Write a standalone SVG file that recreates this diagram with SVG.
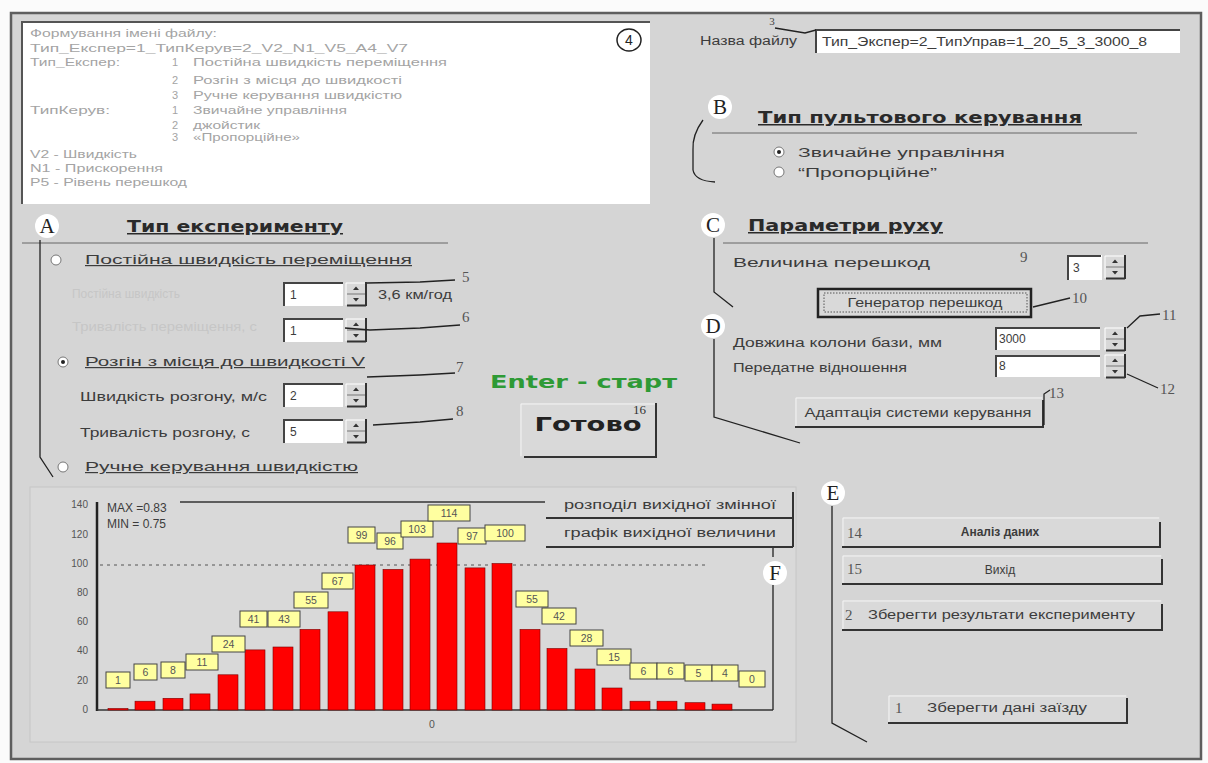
<svg xmlns="http://www.w3.org/2000/svg" width="1208" height="763" viewBox="0 0 1208 763">
<defs>
<style>
.ui{font-family:"Liberation Sans",Arial,sans-serif;font-size:12px;fill:#3c3c3c}
.info{font-family:"Liberation Sans",Arial,sans-serif;font-size:11px;fill:#a4a4a4}
.dis{font-family:"Liberation Sans",Arial,sans-serif;font-size:12px;fill:#c6c6c6}
.head{font-family:"DejaVu Sans",sans-serif;font-size:15px;font-weight:bold;fill:#2a2a2a;text-decoration:underline}
.ltr{font-family:"Liberation Serif",serif;font-size:21px;fill:#222;text-anchor:middle}
.num{font-family:"Liberation Serif",serif;font-size:15px;fill:#555}
.ax{font-family:"Liberation Sans",Arial,sans-serif;font-size:10px;fill:#555;text-anchor:end}
.bl{font-family:"Liberation Sans",Arial,sans-serif;font-size:10.5px;fill:#555;text-anchor:middle}
.lbox{fill:#ffffa0;stroke:#444;stroke-width:1}
.bar{fill:#ff0000;stroke:#7a0000;stroke-width:0.6}
.lead{fill:none;stroke:#222;stroke-width:1.3}
.face{fill:#d9d9d9}
.dark{stroke:#333;stroke-width:2;fill:none}
.hi{stroke:#f4f4f4;stroke-width:1;fill:none}
.sunk{stroke:#444;stroke-width:2;fill:none}
.rad{fill:#fff;stroke:#777;stroke-width:1}
</style>
<g id="spin">
<rect width="22" height="24" fill="#d8d8d8"/>
<path d="M1,1 H21 M1,1 V23" stroke="#fff" stroke-width="1"/>
<path d="M2,12 H21" stroke="#777" stroke-width="1"/>
<path d="M8,8 L11,4.5 L14,8Z" fill="#333"/>
<path d="M8,16 L11,19.5 L14,16Z" fill="#333"/>
<path d="M21,0 V24 M2,23.5 H21" stroke="#333" stroke-width="2"/>
</g>
</defs>

<rect x="0" y="0" width="1208" height="763" fill="#fbfbfb"/>
<rect id="frame" x="11" y="13" width="1190" height="746" fill="#d5d5d5" stroke="#5e5e5e" stroke-width="2.5"/>

<!-- info text box -->
<g id="info-box">
<rect x="22" y="22" width="628" height="182" fill="#ffffff"/>
<path d="M22,204 V22 H650" stroke="#555" stroke-width="2" fill="none"/>
<text class="info" x="30" y="37" textLength="187" lengthAdjust="spacingAndGlyphs">Формування імені файлу:</text>
<text class="info" x="30" y="52" textLength="378" lengthAdjust="spacingAndGlyphs">Тип_Експер=1_ТипКерув=2_V2_N1_V5_A4_V7</text>
<text class="info" x="30" y="66" textLength="90" lengthAdjust="spacingAndGlyphs">Тип_Експер:</text>
<text class="info" x="172" y="66">1</text><text class="info" x="193" y="66" textLength="254" lengthAdjust="spacingAndGlyphs">Постійна швидкість переміщення</text>
<text class="info" x="172" y="84">2</text><text class="info" x="193" y="84" textLength="209" lengthAdjust="spacingAndGlyphs">Розгін з місця до швидкості</text>
<text class="info" x="172" y="99">3</text><text class="info" x="193" y="99" textLength="209" lengthAdjust="spacingAndGlyphs">Ручне керування швидкістю</text>
<text class="info" x="30" y="114" textLength="80" lengthAdjust="spacingAndGlyphs">ТипКерув:</text>
<text class="info" x="172" y="114">1</text><text class="info" x="193" y="114" textLength="154" lengthAdjust="spacingAndGlyphs">Звичайне управління</text>
<text class="info" x="172" y="129">2</text><text class="info" x="193" y="129" textLength="67" lengthAdjust="spacingAndGlyphs">джойстик</text>
<text class="info" x="172" y="141">3</text><text class="info" x="193" y="141" textLength="107" lengthAdjust="spacingAndGlyphs">«Пропорційне»</text>
<text class="info" x="30" y="158" textLength="107" lengthAdjust="spacingAndGlyphs">V2 - Швидкість</text>
<text class="info" x="30" y="172" textLength="133" lengthAdjust="spacingAndGlyphs">N1 - Прискорення</text>
<text class="info" x="30" y="186" textLength="157" lengthAdjust="spacingAndGlyphs">P5 - Рівень перешкод</text>
<ellipse cx="629" cy="40" rx="12" ry="11" fill="#fff" stroke="#222" stroke-width="1.5"/>
<text x="629" y="45" font-family="Liberation Sans, Arial, sans-serif" font-size="14" fill="#222" text-anchor="middle">4</text>
</g>

<!-- filename -->
<g id="filename">
<text class="ui" x="700" y="45" font-size="11" textLength="97" lengthAdjust="spacingAndGlyphs">Назва файлу</text>
<rect x="816" y="30" width="364" height="23" fill="#fff"/>
<path d="M816,53 V30 H1180" stroke="#444" stroke-width="2" fill="none"/>
<text class="ui" x="822" y="46" font-size="11" textLength="325" lengthAdjust="spacingAndGlyphs">Тип_Экспер=2_ТипУправ=1_20_5_3_3000_8</text>
<text x="772" y="25" font-family="Liberation Serif, serif" font-size="11" fill="#444" text-anchor="middle">3</text>
</g>

<!-- B section -->
<g id="section-B">
<circle cx="720" cy="107" r="12" fill="#fff"/>
<text class="ltr" x="720" y="114">B</text>
<text class="head" x="758" y="123" textLength="324" lengthAdjust="spacingAndGlyphs">Тип пультового керування</text>
<line x1="712" y1="133" x2="1137" y2="133" stroke="#666" stroke-width="1"/>
<circle class="rad" cx="779" cy="152" r="5"/><circle cx="779" cy="152" r="2" fill="#222"/>
<text class="ui" x="798" y="157" textLength="207" lengthAdjust="spacingAndGlyphs">Звичайне управління</text>
<circle class="rad" cx="779" cy="172" r="5"/>
<text class="ui" x="798" y="177" textLength="139" lengthAdjust="spacingAndGlyphs">“Пропорційне”</text>
</g>

<!-- A section -->
<g id="section-A">
<circle cx="47" cy="226" r="12" fill="#fff"/>
<text class="ltr" x="47" y="233">A</text>
<text class="head" x="127" y="232" textLength="216" lengthAdjust="spacingAndGlyphs">Тип експерименту</text>
<line x1="22" y1="243" x2="448" y2="243" stroke="#666" stroke-width="1"/>
<circle class="rad" cx="56" cy="260" r="5"/>
<text class="ui" x="85" y="264" text-decoration="underline" textLength="327" lengthAdjust="spacingAndGlyphs">Постійна швидкість переміщення</text>
<text class="dis" x="72" y="298" textLength="108" lengthAdjust="spacingAndGlyphs">Постійна швидкість</text>
<rect x="283" y="282" width="60" height="24" fill="#fff"/><path class="sunk" d="M284,306 V283 H343"/>
<text class="ui" x="290" y="299" fill="#aaa">1</text>
<use href="#spin" x="345" y="282"/>
<text class="ui" x="378" y="299" font-size="11" textLength="74" lengthAdjust="spacingAndGlyphs">3,6 км/год</text>
<text class="dis" x="72" y="331" textLength="185" lengthAdjust="spacingAndGlyphs">Тривалість переміщення, с</text>
<rect x="283" y="318" width="60" height="24" fill="#fff"/><path class="sunk" d="M284,342 V319 H343"/>
<text class="ui" x="290" y="335" fill="#aaa">1</text>
<use href="#spin" x="345" y="318"/>
<circle class="rad" cx="63" cy="362" r="5"/><circle cx="63" cy="362" r="2" fill="#222"/>
<text class="ui" x="85" y="366" text-decoration="underline" textLength="280" lengthAdjust="spacingAndGlyphs">Розгін з місця до швидкості V</text>
<text class="ui" x="80" y="401" textLength="187" lengthAdjust="spacingAndGlyphs">Швидкість розгону, м/с</text>
<rect x="283" y="383" width="60" height="24" fill="#fff"/><path class="sunk" d="M284,407 V384 H343"/>
<text class="ui" x="290" y="400" fill="#aaa">2</text>
<use href="#spin" x="345" y="383"/>
<text class="ui" x="80" y="437" textLength="170" lengthAdjust="spacingAndGlyphs">Тривалість розгону, с</text>
<rect x="283" y="419" width="60" height="24" fill="#fff"/><path class="sunk" d="M284,443 V420 H343"/>
<text class="ui" x="290" y="436" fill="#aaa">5</text>
<use href="#spin" x="345" y="419"/>
<circle class="rad" cx="63" cy="467" r="5"/>
<text class="ui" x="85" y="471" text-decoration="underline" textLength="273" lengthAdjust="spacingAndGlyphs">Ручне керування швидкістю</text>
<text class="num" x="462" y="282">5</text>
<text class="num" x="462" y="322">6</text>
<text class="num" x="456" y="372">7</text>
<text class="num" x="456" y="416">8</text>
</g>

<!-- start -->
<g id="start">
<text x="490" y="388" font-family="DejaVu Sans, sans-serif" font-size="17" font-weight="bold" fill="#2e9a35" textLength="187" lengthAdjust="spacingAndGlyphs">Enter - старт</text>
<rect x="520" y="403" width="137" height="54" class="face"/>
<path class="hi" d="M521,456 V404 H656"/>
<path class="dark" d="M524,457 H656 V403"/>
<text x="588" y="431" font-family="DejaVu Sans, sans-serif" font-size="19" font-weight="bold" fill="#222" text-anchor="middle" textLength="107" lengthAdjust="spacingAndGlyphs">Готово</text>
<text x="633" y="414" font-family="Liberation Serif, serif" font-size="13" fill="#333">16</text>
</g>

<!-- C section -->
<g id="section-C">
<circle cx="713" cy="225" r="12" fill="#fff"/>
<text class="ltr" x="713" y="232">C</text>
<text class="head" x="748" y="231" textLength="195" lengthAdjust="spacingAndGlyphs">Параметри руху</text>
<line x1="723" y1="243" x2="1148" y2="243" stroke="#666" stroke-width="1"/>
<text class="ui" x="733" y="267" textLength="197" lengthAdjust="spacingAndGlyphs">Величина перешкод</text>
<text class="num" x="1020" y="262" font-size="13">9</text>
<rect x="1067" y="255" width="35" height="25" fill="#fff"/><path class="sunk" d="M1068,280 V256 H1101"/>
<text class="ui" x="1073" y="272">3</text>
<use href="#spin" x="1104" y="255"/>
<rect x="817" y="288" width="215" height="30" class="face"/>
<rect x="818" y="289" width="213" height="28" fill="none" stroke="#222" stroke-width="2.5"/>
<rect x="824" y="293" width="203" height="19" fill="none" stroke="#555" stroke-width="1" stroke-dasharray="1.5,1.5"/>
<text class="ui" x="925" y="307" font-size="11" text-anchor="middle" textLength="155" lengthAdjust="spacingAndGlyphs">Генератор перешкод</text>
<text class="num" x="1072" y="303">10</text>
</g>

<!-- D section -->
<g id="section-D">
<circle cx="713" cy="326" r="12" fill="#fff"/>
<text class="ltr" x="713" y="333">D</text>
<text class="ui" x="733" y="347" font-size="11" textLength="209" lengthAdjust="spacingAndGlyphs">Довжина колони бази, мм</text>
<rect x="995" y="327" width="105" height="23" fill="#fff"/><path class="sunk" d="M996,350 V328 H1100"/>
<text class="ui" x="999" y="343" font-size="11">3000</text>
<use href="#spin" x="1104" y="327"/>
<text class="ui" x="733" y="372" font-size="11" textLength="174" lengthAdjust="spacingAndGlyphs">Передатне відношення</text>
<rect x="995" y="355" width="105" height="22" fill="#fff"/><path class="sunk" d="M996,377 V356 H1100"/>
<text class="ui" x="999" y="370" font-size="11">8</text>
<use href="#spin" x="1104" y="354"/>
<rect x="795" y="397" width="248" height="31" class="face"/>
<path class="hi" d="M796,427 V398 H1042"/>
<path class="dark" d="M795,427 H1043 V400"/>
<text class="ui" x="918" y="417" font-size="11" text-anchor="middle" textLength="227" lengthAdjust="spacingAndGlyphs">Адаптація системи керування</text>
<text class="num" x="1162" y="320">11</text>
<text class="num" x="1160" y="394">12</text>
<text class="num" x="1049" y="398">13</text>
</g>

<!-- chart -->
<g id="chart">
<rect x="30" y="487" width="766" height="255" fill="#d9d9d9" stroke="#c6c6c6" stroke-width="1"/>
<line x1="180" y1="502" x2="545" y2="502" stroke="#333" stroke-width="1.5"/>
<line x1="97" y1="502" x2="97" y2="711" stroke="#222" stroke-width="2.5"/>
<line x1="97" y1="710" x2="773" y2="710" stroke="#333" stroke-width="1.5"/>
<line x1="100" y1="565" x2="707" y2="565" stroke="#555" stroke-width="1" stroke-dasharray="3,4"/>
<text class="ax" x="88" y="508">140</text>
<text class="ax" x="88" y="538">120</text>
<text class="ax" x="88" y="567">100</text>
<text class="ax" x="88" y="596">80</text>
<text class="ax" x="88" y="625">60</text>
<text class="ax" x="88" y="654">40</text>
<text class="ax" x="88" y="684">20</text>
<text class="ax" x="88" y="713">0</text>
<text class="ui" x="107" y="512" font-size="10.5">MAX =0.83</text>
<text class="ui" x="107" y="528" font-size="10.5">MIN = 0.75</text>
<text class="bl" x="432" y="728">0</text>
<rect class="bar" x="108" y="708.5" width="20" height="1.5"/>
<rect class="bar" x="135" y="701.2" width="20" height="8.8"/>
<rect class="bar" x="163" y="698.3" width="20" height="11.7"/>
<rect class="bar" x="190" y="693.9" width="20" height="16.1"/>
<rect class="bar" x="218" y="674.8" width="20" height="35.2"/>
<rect class="bar" x="245" y="649.9" width="20" height="60.1"/>
<rect class="bar" x="273" y="647" width="20" height="63"/>
<rect class="bar" x="300" y="629.4" width="20" height="80.6"/>
<rect class="bar" x="328" y="611.8" width="20" height="98.2"/>
<rect class="bar" x="355" y="565" width="20" height="145"/>
<rect class="bar" x="383" y="569.4" width="20" height="140.6"/>
<rect class="bar" x="410" y="559.1" width="20" height="150.9"/>
<rect class="bar" x="437" y="543" width="20" height="167"/>
<rect class="bar" x="465" y="567.9" width="20" height="142.1"/>
<rect class="bar" x="492" y="563.5" width="20" height="146.5"/>
<rect class="bar" x="520" y="629.4" width="20" height="80.6"/>
<rect class="bar" x="547" y="648.5" width="20" height="61.5"/>
<rect class="bar" x="575" y="669" width="20" height="41"/>
<rect class="bar" x="602" y="688" width="20" height="22"/>
<rect class="bar" x="630" y="701.2" width="20" height="8.8"/>
<rect class="bar" x="657" y="701.2" width="20" height="8.8"/>
<rect class="bar" x="685" y="702.7" width="20" height="7.3"/>
<rect class="bar" x="712" y="704.1" width="20" height="5.9"/>
<g>
<rect class="lbox" x="106" y="672" width="24" height="16"/><text class="bl" x="118" y="684">1</text>
<rect class="lbox" x="134" y="664" width="23" height="16"/><text class="bl" x="145.5" y="676">6</text>
<rect class="lbox" x="161" y="662" width="24" height="16"/><text class="bl" x="173" y="674">8</text>
<rect class="lbox" x="186" y="654" width="32" height="16"/><text class="bl" x="202" y="666">11</text>
<rect class="lbox" x="212" y="636" width="33" height="16"/><text class="bl" x="228.5" y="648">24</text>
<rect class="lbox" x="240" y="611" width="27" height="16"/><text class="bl" x="253.5" y="623">41</text>
<rect class="lbox" x="268" y="611" width="32" height="16"/><text class="bl" x="284" y="623">43</text>
<rect class="lbox" x="294" y="592" width="34" height="16"/><text class="bl" x="311" y="604">55</text>
<rect class="lbox" x="322" y="573" width="31" height="16"/><text class="bl" x="337.5" y="585">67</text>
<rect class="lbox" x="348" y="527" width="27" height="16"/><text class="bl" x="361.5" y="539">99</text>
<rect class="lbox" x="377" y="533" width="26" height="16"/><text class="bl" x="390" y="545">96</text>
<rect class="lbox" x="401" y="521" width="32" height="16"/><text class="bl" x="417" y="533">103</text>
<rect class="lbox" x="428" y="505" width="42" height="16"/><text class="bl" x="449" y="517">114</text>
<rect class="lbox" x="458" y="528" width="28" height="16"/><text class="bl" x="472" y="540">97</text>
<rect class="lbox" x="485" y="525" width="40" height="16"/><text class="bl" x="505" y="537">100</text>
<rect class="lbox" x="516" y="591" width="32" height="16"/><text class="bl" x="532" y="603">55</text>
<rect class="lbox" x="542" y="608" width="34" height="16"/><text class="bl" x="559" y="620">42</text>
<rect class="lbox" x="570" y="630" width="33" height="16"/><text class="bl" x="586.5" y="642">28</text>
<rect class="lbox" x="597" y="649" width="34" height="16"/><text class="bl" x="614" y="661">15</text>
<rect class="lbox" x="630" y="663" width="27" height="16"/><text class="bl" x="643.5" y="675">6</text>
<rect class="lbox" x="657" y="663" width="27" height="16"/><text class="bl" x="670.5" y="675">6</text>
<rect class="lbox" x="685" y="665" width="27" height="16"/><text class="bl" x="698.5" y="677">5</text>
<rect class="lbox" x="712" y="665" width="26" height="16"/><text class="bl" x="725" y="677">4</text>
<rect class="lbox" x="739" y="671" width="26" height="16"/><text class="bl" x="752" y="683">0</text>
</g>
</g>

<g id="legend-buttons">
<rect x="546" y="492" width="247" height="55" class="face"/>
<path class="dark" d="M546,518 H793 M546,547 H793 M793,492 V547" stroke-width="1.5"/>
<text class="ui" x="670" y="509" font-size="10.5" text-anchor="middle" textLength="212" lengthAdjust="spacingAndGlyphs">розподіл вихідної змінної</text>
<text class="ui" x="670" y="537" font-size="10.5" text-anchor="middle" textLength="212" lengthAdjust="spacingAndGlyphs">графік вихідної величини</text>
</g>

<g id="section-F">
<circle cx="775" cy="573" r="12" fill="#fff"/>
<text class="ltr" x="775" y="580">F</text>
</g>

<!-- E section -->
<g id="section-E">
<circle cx="833" cy="493" r="12" fill="#fff"/>
<text class="ltr" x="833" y="500">E</text>
<g id="btn14">
<rect x="842" y="517" width="318" height="30" class="face"/>
<path class="hi" d="M843,546 V518 H1159"/>
<path class="dark" d="M842,547 H1160 V522"/>
<text class="num" x="847" y="538" font-size="14">14</text>
<text class="ui" x="1000" y="536" font-size="11" font-weight="bold" text-anchor="middle">Аналіз даних</text>
</g>
<g id="btn15">
<rect x="842" y="555" width="320" height="29" class="face"/>
<path class="hi" d="M843,583 V556 H1161"/>
<path class="dark" d="M842,584 H1162 V559"/>
<text class="num" x="847" y="574" font-size="14">15</text>
<text class="ui" x="1000" y="574" font-size="11" text-anchor="middle">Вихід</text>
</g>
<g id="btn2">
<rect x="842" y="600" width="320" height="30" class="face"/>
<path class="hi" d="M843,629 V601 H1161"/>
<path class="dark" d="M842,630 H1162 V604"/>
<text class="num" x="845" y="620" font-size="14">2</text>
<text class="ui" x="868" y="619" font-size="11" textLength="267" lengthAdjust="spacingAndGlyphs">Зберегти результати експерименту</text>
</g>
<g id="btn1">
<rect x="888" y="695" width="239" height="28" class="face"/>
<path class="hi" d="M889,722 V696 H1126"/>
<path class="dark" d="M888,723 H1127 V698"/>
<text class="num" x="895" y="713" font-size="14">1</text>
<text class="ui" x="927" y="712" font-size="11" textLength="160" lengthAdjust="spacingAndGlyphs">Зберегти дані заїзду</text>
</g>
</g>

<!-- connectors -->
<g id="connectors">
<path class="lead" d="M775,28 L805,33 L816,30"/>
<path class="lead" d="M703,120 Q692,135 693,150 L693,170 Q695,181 715,182"/>
<path class="lead" d="M40,240 V457 L53,477"/>
<path class="lead" d="M367,283 L420,282 L455,280"/>
<path class="lead" d="M345,328 L370,330 L420,328 L460,325"/>
<path class="lead" d="M367,377 L420,375 L455,373"/>
<path class="lead" d="M373,425 L420,422 L453,419"/>
<path class="lead" d="M714,238 V292 L733,307"/>
<path class="lead" d="M714,339 V417 L800,443"/>
<path class="lead" d="M1033,307 L1070,298"/>
<path class="lead" d="M1127,328 L1140,316 L1160,314"/>
<path class="lead" d="M1127,374 L1158,388"/>
<path class="lead" d="M1044,425 V394 L1050,390"/>
<path class="lead" d="M773,548 V557 M773,585 V710"/>
<path class="lead" d="M832,506 V723 L867,742"/>
</g>
</svg>
